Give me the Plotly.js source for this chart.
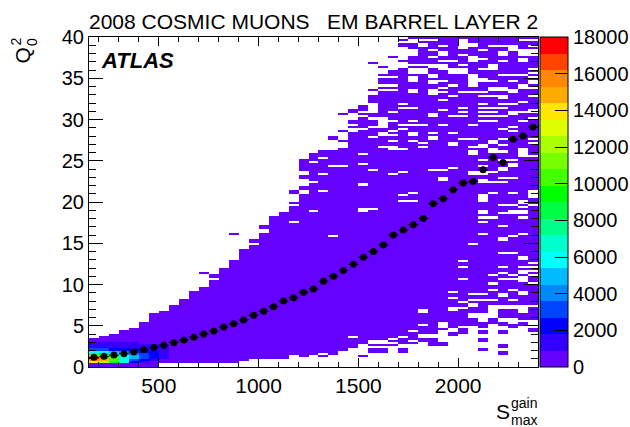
<!DOCTYPE html>
<html><head><meta charset="utf-8">
<script src="https://cdn.plot.ly/plotly-3.0.1.min.js"></script>
<style>html,body{margin:0;padding:0;background:#fff}</style></head>
<body><div id="chart" style="width:630px;height:427px"></div>
<script>
// Bins: 45 columns of width 50 starting at 150; 160 rows of height 0.25, row 0 at the top (y=40).
const xBinCenters = Array.from({length:45},(_,i)=>175+50*i);
const yBinCenters = Array.from({length:160},(_,r)=>39.875-0.25*r);
const bandColors = ['#6600ff','#3300ff','#0000ff','#0044ff','#0088ff','#00bbff','#00ffff','#00ffcc','#00ff88','#00ff44','#00ff00','#44ff00','#77ff00','#aaff00','#ddff00','#ffe600','#ffaa00','#ff8800','#ff4400','#ff0000'];
const colTopRow =    [147,145,144,142,141,138,134,133,130,127,123,121,118,112,108,103,101,95,87,85,83,76,58,55,55,54,46,33,37,26,26,18,0,0,0,0,0,0,0,0,0,0,0,0,0];
const colBottomRow = [159,159,159,159,159,159,159,157,157,157,157,157,157,157,157,156,155,155,155,155,153,154,153,152,153,151,150,148,146,146,145,144,141,143,143,137,137,139,139,138,138,139,135,136,136];
const baseCount = 300;
const extraRows = {
 11:[114],12:[115,116],14:[95],16:[98,99],17:[91,92],20:[74,75,80,82],
 21:[59,60,61,62,63,64,67,68,72,73],22:[56,57],23:[154],24:[48,49],25:[37,45,50],26:[35,36,40,41,43],27:[154],
 28:[12,25,28,29,30,31,149,151,152],29:[14,18,20,21,22,24,149,151,152],30:[9,16,17,18,20,21,22,24,147,149],
 31:[1,3,4,11,15,16,17,146,147,148,151,152],32:[143,144,145,146,148],33:[146,147],34:[146,147,148,149],35:[141,148,149],
 36:[138,139,140,143,144],37:[141,142,143],39:[139,140,142,143,146,147,151],41:[142,143,149,150,152,153],42:[139,140],43:[138,139],44:[141,142]
};
const holeRows = {
 20:[89],22:[60,70,84],23:[58,66,74],24:[62,96],25:[62],26:[145],27:[36,38,44,56,61,71,83,84],
 28:[39,43,48,64,83],29:[39,40,41,42,43,46,47,53],30:[36,40,45,47,50,53,54,66],31:[32,34,42,44,54,65,76,79],
 32:[1,2,6,7,8,13,15,16,17,19,20,21,25,26,34,40,42,46,47,50,75,79],
 33:[1,3,4,13,15,16,17,42,51,53,132,133,139],
 34:[1,6,9,13,14,18,19,21,22,25,26,27,37,38,46,48,49,64],
 35:[4,7,8,11,13,14,15,21,24,26,30,35,42,64,68,69],
 36:[11,15,16,17,23,28,38,46,51,52,63,123,126,131,132],
 37:[1,2,3,4,5,8,13,15,16,17,26,34,36,38,49,108,111,117,128,131],
 38:[3,4,9,10,11,18,19,20,21,22,23,26,42,49,53,55,56,65,66,100,124,127,129,130,134,135],
 39:[6,10,15,20,21,26,28,32,34,36,38,40,52,53,59,62,65,66,69,70,76,77,78,79,84,85,87,89,95,124,127,134,135,136,137],
 40:[4,13,14,15,21,24,25,28,34,36,38,40,50,51,54,55,65,70,75,87,115,119,122,127,130,131,132,133,134,135],
 41:[4,7,8,11,18,24,25,28,29,32,34,38,44,49,52,55,59,63,64,68,70,81,85,91,97,98,104,111,114,117,124,125,130,131,136,137],
 42:[4,5,6,18,21,25,26,32,36,37,43,45,59,61,62,68,75,81,84,85,96,104,115,117,122,127,130,131],
 43:[1,6,7,8,10,11,18,23,24,31,36,40,54,55,56,57,79,80,82,84,85,87,95,106,107,111,113,114,116,117,118,123,124,130,131,132,133],
 44:[1,4,6,7,8,15,17,19,21,22,24,28,35,36,39,49,51,57,74,75,76,77,81,109,111,113,115,119,130]
};
// Hot region at the lower left, counts per bin from y=0 upward, one list per column.
const hotRowsFromBottom = {
 0:[300,500,14000,16000,17500,15000,10000,6000,3000,1500,1200,1000,500,300],
 1:[200,300,12000,14500,15500,14000,9000,5500,2800,1400,1200,1000,500,200],
 2:[100,200,8500,10000,10500,9500,7000,5000,2500,1400,1100,950,400,200],
 3:[100,150,5500,6000,6500,6000,5000,4200,2200,1300,1000,900,400,150],
 4:[50,100,2000,3500,4500,4500,3800,2800,1850,1300,1000,900,400,100],
 5:[50,100,1000,1900,2800,3000,2800,2200,1500,1300,1000,600,300,100],
 6:[30,60,500,1300,2000,2200,2000,1800,1300,1000,900,500,200,100],
 7:[0,0,300,400,1000,1200,1300,1300,1100,950,400,300,200,100]
};
const profileX = xBinCenters;
const profileY = [1.17,1.29,1.45,1.62,1.82,2.1,2.35,2.63,2.95,3.27,3.6,4.0,4.37,4.85,5.25,5.7,6.26,6.75,7.3,8.0,8.4,9.05,9.45,10.4,11.0,11.7,12.44,13.3,14.0,14.8,16.0,16.6,17.25,18.0,19.8,20.4,21.5,22.3,22.5,23.9,25.4,24.8,27.6,28.0,29.1];
const profileHalfWidth = 25;
const titleText = '2008 COSMIC MUONS\u00a0\u00a0\u00a0EM BARREL LAYER 2';

const z = yBinCenters.map(()=>xBinCenters.map(()=>null));
xBinCenters.forEach((_,c)=>{
  for(let r=colTopRow[c];r<=colBottomRow[c];r++) z[r][c]=baseCount;
  (extraRows[c]||[]).forEach(r=>{z[r][c]=baseCount;});
  (holeRows[c]||[]).forEach(r=>{z[r][c]=null;});
  (hotRowsFromBottom[c]||[]).forEach((v,b)=>{ if(v>0) z[159-b][c]=v; });
});
const n = bandColors.length, colorscale=[];
bandColors.forEach((col,i)=>{colorscale.push([i/n,col]);colorscale.push([(i+1)/n,col]);});

const W=630,H=427,L=89,R=538,T=37,B=367;
const FONT='"Liberation Sans",Arial,sans-serif';
const px=x=>(x-L)/(W-L), py=y=>(B-y)/(B-T);
const xDomain=[0,(R-L)/(W-L)];
const note=(text,x,y,size,angle)=>({text,xref:'paper',yref:'paper',x:px(x),y:py(y),xanchor:'center',yanchor:'middle',showarrow:false,textangle:angle||0,font:{size,color:'#000',family:FONT}});

const axisBase={showgrid:false,zeroline:false,showline:true,linecolor:'#000',linewidth:1,ticks:'inside',tickcolor:'#000',tickwidth:1,tickfont:{size:20,color:'#000',family:FONT}};
const xCommon={domain:xDomain,range:[150,2400],tick0:0,dtick:500,ticklen:9,minor:{dtick:100,ticks:'inside',ticklen:5,tickcolor:'#000',tickwidth:1,showgrid:false}};
const yCommon={range:[0,40],tick0:0,dtick:5,ticklen:14,minor:{dtick:1,ticks:'inside',ticklen:7,tickcolor:'#000',tickwidth:1,showgrid:false}};

Plotly.newPlot('chart',[
 {type:'heatmap',x:xBinCenters,y:yBinCenters,z,zmin:0,zmax:18000,colorscale,hoverongaps:false,
  colorbar:{x:px(540),xanchor:'left',xpad:0,ypad:0,y:0,yanchor:'bottom',len:1,thickness:28,outlinecolor:'#000',outlinewidth:1,
    tick0:0,dtick:2000,ticks:'inside',ticklen:13,tickcolor:'#000',tickwidth:1,exponentformat:'none',tickformat:'d',tickfont:{size:20,color:'#000',family:FONT}}},
 {type:'scatter',mode:'markers',x:profileX,y:profileY,marker:{color:'#000',size:7,symbol:'circle'},
  error_x:{type:'constant',value:profileHalfWidth,width:0,thickness:1,color:'#000'},showlegend:false},
 {type:'scatter',mode:'markers',x:[],y:[],xaxis:'x2',yaxis:'y2',showlegend:false,hoverinfo:'skip'}
],{
 width:W,height:H,margin:{l:L,r:0,t:T,b:H-B,pad:0,autoexpand:false},paper_bgcolor:'#fff',plot_bgcolor:'#fff',showlegend:false,
 title:{text:titleText,xref:'paper',x:0,xanchor:'left',yref:'container',y:0.95,yanchor:'middle',font:{size:21,color:'#000',family:FONT}},
 xaxis:Object.assign({},axisBase,xCommon,{tickfont:{size:21,color:'#000',family:FONT}}),
 yaxis:Object.assign({},axisBase,yCommon),
 xaxis2:Object.assign({},axisBase,xCommon,{overlaying:'x',side:'top',anchor:'y2',showticklabels:false}),
 yaxis2:Object.assign({},axisBase,yCommon,{overlaying:'y',side:'right',anchor:'x2',showticklabels:false}),
 annotations:[
  note('<b><i>ATLAS</i></b>',137.5,60,22),
  note('Q',21.5,56,21,-90),note('2',15.5,42,14,-90),note('0',32,42,14,-90),
  note('S',503,412,21),note('gain',524,403,14),note('max',524,420,14)
 ]
},{displayModeBar:false,staticPlot:true});
</script></body></html>
